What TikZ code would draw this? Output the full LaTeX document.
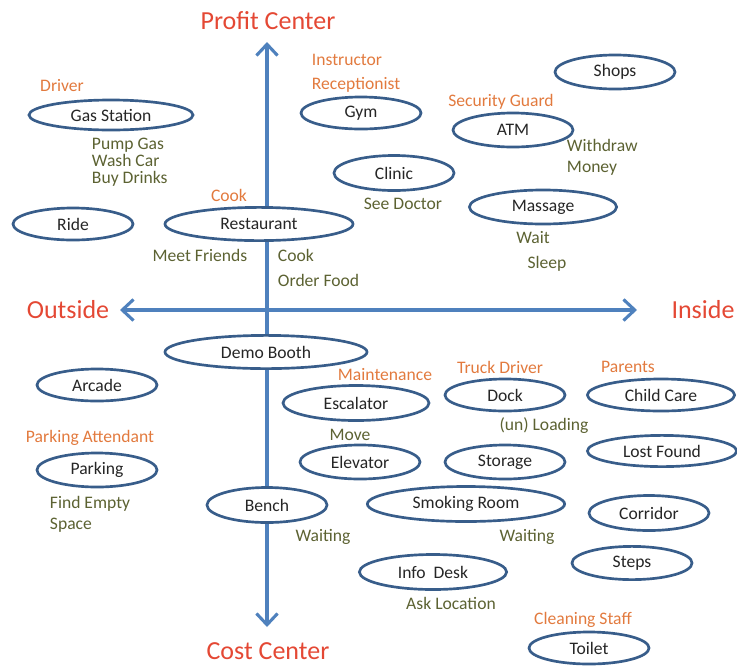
\documentclass[tikz,border=0pt]{standalone}
\usepackage{fontspec}
\setmainfont{Carlito}
\usepackage{xcolor}
\definecolor{axisblue}{RGB}{79,129,189}
\definecolor{rimblue}{RGB}{56,93,138}
\definecolor{axisred}{RGB}{228,72,52}
\definecolor{roleorange}{RGB}{226,122,62}
\definecolor{actolive}{RGB}{92,98,50}
\usetikzlibrary{arrows.meta, shapes.geometric}

\begin{document}
\begin{tikzpicture}[x=0.025cm, y=-0.025cm,
    place/.style={ellipse, draw=rimblue, line width=1.9pt, fill=white,
                  inner sep=0pt, minimum width=3cm, minimum height=0.85cm,
                  text=black!85, font=\fontsize{12.5}{15}\selectfont},
    role/.style={text=roleorange, font=\fontsize{12.5}{15}\selectfont},
    act/.style={text=actolive, font=\fontsize{12.5}{15}\selectfont, align=left},
    axislabel/.style={text=axisred, font=\fontsize{18.5}{22}\selectfont},
    axis/.style={axisblue, line width=2.2pt,
                 {Straight Barb[length=8pt, width=15pt]}-{Straight Barb[length=8pt, width=15pt]}}]
  \useasboundingbox (0,0) rectangle (737,666);

  % axes
  \coordinate (profit) at (267,42);
  \coordinate (cost) at (267,627);
  \coordinate (outside) at (120,310);
  \coordinate (inside) at (637,310);
  \draw[axis] (profit) -- (cost);
  \draw[axis] (outside) -- (inside);

  \node[axislabel] (profitlbl) at (268,21) {Profit Center};
  \node[axislabel] (costlbl) at (268,651) {Cost Center};
  \node[axislabel] (outlbl) at (68,310) {Outside};
  \node[axislabel] (inlbl) at (703,310) {Inside};

  % places, upper half
  \node[place, minimum width=4.1cm, minimum height=0.75cm] (gas) at (111,115) {Gas Station};
  \node[place, minimum height=0.8cm] (ride) at (73,224) {Ride};
  \node[place, minimum width=4.7cm, minimum height=0.83cm] (rest) at (259,224) {Restaurant};
  \node[place, minimum height=0.8cm] (gym) at (361,113) {Gym};
  \node[place, minimum height=0.875cm] (clinic) at (394,173) {Clinic};
  \node[place] (shops) at (615,72) {Shops};
  \node[place] (atm) at (513,130) {ATM};
  \node[place, minimum width=3.68cm] (massage) at (543,207) {Massage};

  % places, lower half
  \node[place, minimum width=5.05cm, minimum height=0.83cm] (demo) at (266,352) {Demo Booth};
  \node[place, minimum height=0.8cm] (arcade) at (97,385) {Arcade};
  \node[place] (parking) at (97,470) {Parking};
  \node[place, minimum height=0.875cm] (bench) at (267,505) {Bench};
  \node[place, minimum width=3.65cm, minimum height=0.875cm] (escal) at (356,403) {Escalator};
  \node[place] (elev) at (360,462) {Elevator};
  \node[place, minimum height=0.8cm] (dock) at (505,395) {Dock};
  \node[place, minimum width=3.68cm, minimum height=0.8cm] (child) at (661,395) {Child Care};
  \node[place] (storage) at (505,462) {Storage};
  \node[place, minimum width=3.73cm, minimum height=0.78cm] (lost) at (662,451) {Lost Found};
  \node[place, minimum width=4.93cm, minimum height=0.875cm] (smoke) at (466,504) {Smoking Room};
  \node[place, minimum height=0.875cm] (corridor) at (649,513) {Corridor};
  \node[place, minimum width=3.68cm, minimum height=0.875cm] (info) at (433,572) {Info~ Desk};
  \node[place, minimum height=0.83cm] (steps) at (632,563) {Steps};
  \node[place, minimum height=0.8cm] (toilet) at (589,648) {Toilet};

  % staff
  \node[role] (driver) at (62,86) {Driver};
  \node[role, anchor=west] (instr) at (307,60) {Instructor};
  \node[role, anchor=west] (recep) at (307,85) {Receptionist};
  \node[role] (cook) at (229,195) {Cook};
  \node[role] (guard) at (501,102) {Security Guard};
  \node[role] (maint) at (385,375) {Maintenance};
  \node[role] (trucker) at (500,367) {Truck Driver};
  \node[role] (parents) at (628,367) {Parents};
  \node[role] (attend) at (90,438) {Parking Attendant};
  \node[role] (cleaner) at (583,620) {Cleaning Staff};

  % activities
  \node[act, anchor=west, font=\fontsize{12.5}{12}\selectfont] (pump) at (87,162) {Pump Gas\\Wash Car\\Buy Drinks};
  \node[act] (friends) at (200,255) {Meet Friends};
  \node[act, anchor=west] (cooking) at (273,255) {Cook};
  \node[act, anchor=west] (order) at (273,280) {Order Food};
  \node[act] (doctor) at (403,204) {See Doctor};
  \node[act, anchor=west] (withdraw) at (562,157) {Withdraw\\Money};
  \node[act] (wait) at (533,238) {Wait};
  \node[act] (sleep) at (547,264) {Sleep};
  \node[act] (move) at (350,435) {Move};
  \node[act] (loading) at (544,426) {(un) Loading};
  \node[act, anchor=west] (findspace) at (45,514) {Find Empty\\Space};
  \node[act] (benchwait) at (323,537) {Waiting};
  \node[act] (smokewait) at (527,537) {Waiting};
  \node[act] (asklocation) at (451,603) {Ask Location};
\end{tikzpicture}
\end{document}
